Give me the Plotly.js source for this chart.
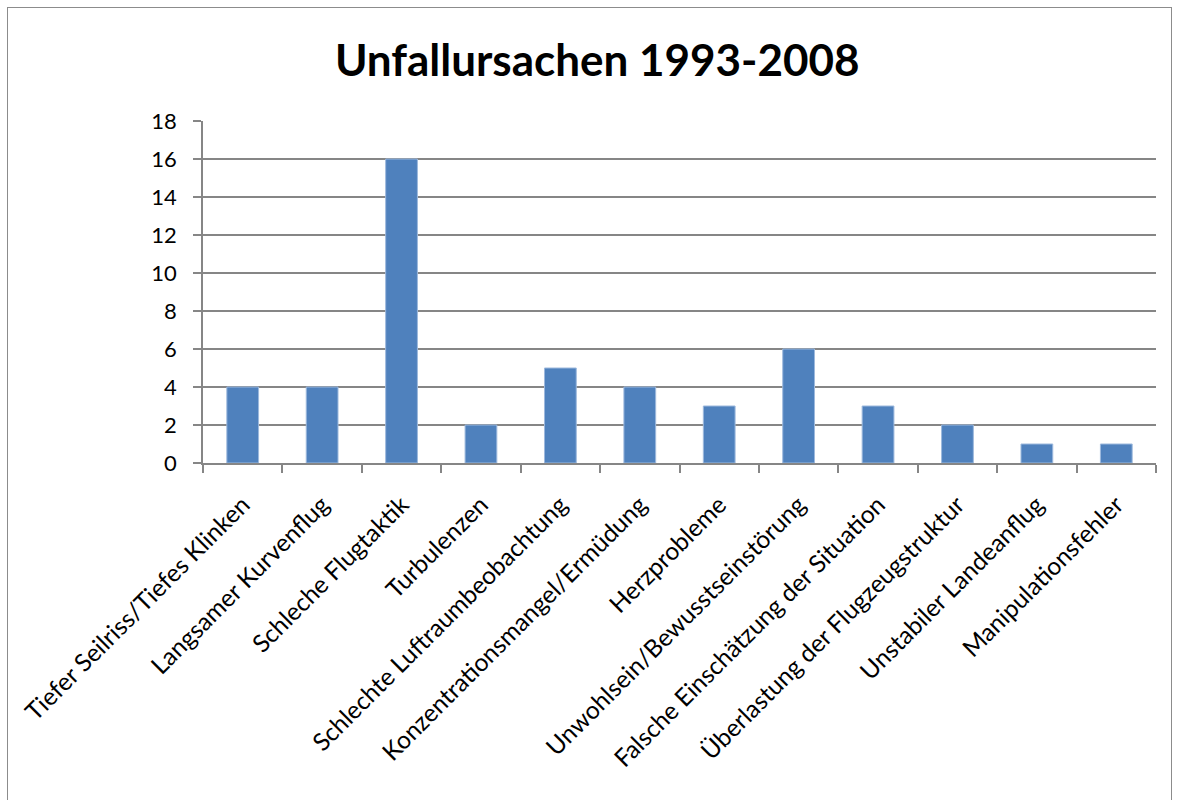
<!DOCTYPE html>
<html>
<head>
<meta charset="utf-8">
<script src="https://cdn.plot.ly/plotly-3.0.1.min.js"></script>
<style>
html,body{margin:0;padding:0;background:#fff;}
#wrap{position:relative;width:1178px;height:800px;overflow:hidden;}
#chart{width:1178px;height:800px;}
#frame{position:absolute;left:7px;top:7px;width:1163px;height:820px;border:1.5px solid #8c8c8c;pointer-events:none;}
</style>
</head>
<body>
<div id="wrap"><div id="chart"></div><div id="frame"></div></div>
<script>
const categories = [
  "Tiefer Seilriss/Tiefes Klinken",
  "Langsamer Kurvenflug",
  "Schleche Flugtaktik",
  "Turbulenzen",
  "Schlechte Luftraumbeobachtung",
  "Konzentrationsmangel/Ermüdung",
  "Herzprobleme",
  "Unwohlsein/Bewusstseinstörung",
  "Falsche Einschätzung der Situation",
  "Überlastung der Flugzeugstruktur",
  "Unstabiler Landeanflug",
  "Manipulationsfehler"
];
const values = [4, 4, 16, 2, 5, 4, 3, 6, 3, 2, 1, 1];
const yTicks = [0, 2, 4, 6, 8, 10, 12, 14, 16, 18];
const titleText = "Unfallursachen 1993-2008";

const font = "Lato, 'Open Sans', sans-serif";
Plotly.newPlot("chart", [{
  type: "bar",
  x: categories,
  y: values,
  marker: {color: "#4F81BD", line: {color: "#9DB9DD", width: 1}},
  hoverinfo: "x+y"
}], {
  width: 1178, height: 800,
  paper_bgcolor: "#ffffff", plot_bgcolor: "#ffffff",
  margin: {l: 203, r: 22, t: 121, b: 337},
  bargap: 0.6,
  showlegend: false,
  title: {text: "<b>" + titleText + "</b>", x: 0.507, xanchor: "center", y: 0.924, yanchor: "middle",
          font: {family: font, size: 44, color: "#000"}},
  xaxis: {
    type: "category",
    tickangle: -45,
    tickson: "boundaries",
    ticks: "outside", ticklen: 8, tickwidth: 1.5, tickcolor: "#868686",
    showline: true, linecolor: "#868686", linewidth: 1.5,
    showgrid: false,
    ticklabelstandoff: 16,
    tickfont: {family: font, size: 24.5, color: "#000"}
  },
  yaxis: {
    range: [0, 18],
    tickvals: yTicks,
    ticktext: yTicks.map(String),
    ticks: "outside", ticklen: 8, tickwidth: 1.5, tickcolor: "#868686",
    showline: true, linecolor: "#868686", linewidth: 1.5,
    showgrid: true, gridcolor: "#868686", gridwidth: 1.5,
    zeroline: false,
    ticklabelstandoff: 12,
    tickfont: {family: font, size: 22, color: "#000"}
  }
}, {displayModeBar: false, staticPlot: false});
</script>
</body>
</html>
